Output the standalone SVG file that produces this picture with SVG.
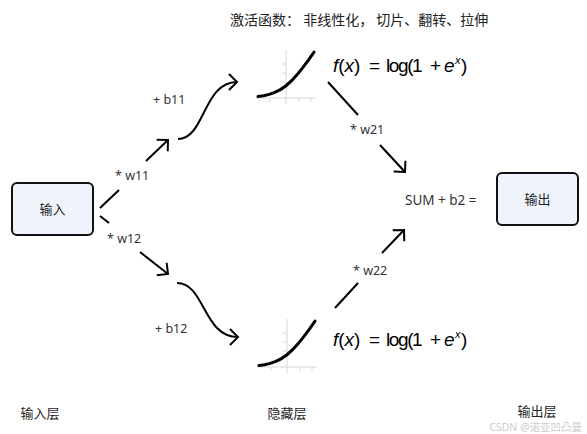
<svg xmlns="http://www.w3.org/2000/svg" width="587" height="434" viewBox="0 0 587 434">
  <style>
    .lbl { font-family: "Noto Sans", "Noto Sans CJK SC", sans-serif; font-size: 12.5px; fill: #333; }
    .cjk { font-family: "Noto Sans CJK SC", "Noto Sans", sans-serif; font-size: 13px; fill: #222; }
    .title { font-size: 14px; }
    .sum { font-size: 13.5px; }
    .box { fill: #eef3fc; stroke: #111; stroke-width: 2; }
    .edge { fill: none; stroke: #000; stroke-width: 2; }
    .axis { stroke: #d8d8d8; stroke-width: 1; fill: none; }
    .curve { fill: none; stroke: #000; stroke-width: 3; stroke-linecap: round; }
    .fx { font-family: "Liberation Sans", Arial, sans-serif; font-size: 19px; fill: #000; }
    .it { font-style: italic; }
    .wm { font-family: "Noto Sans", "Noto Sans CJK SC", sans-serif; font-size: 10.5px; fill: #cccccc; }
  </style>
  <defs>
    <marker id="arrow" markerUnits="userSpaceOnUse" markerWidth="20" markerHeight="20" viewBox="-10 -10 20 20" refX="0" refY="0" orient="auto">
      <path d="M-8,-8 L0,0 L-8,8" fill="none" stroke="#000" stroke-width="2" stroke-linejoin="miter"/>
    </marker>
    <!-- softplus plot: faint axes, ticks and the curve -->
    <g id="softplus">
      <path class="axis" d="M286,50 V104 M256,98 H316"/>
      <path class="axis" d="M282,64 H286 M282,73 H286 M282,82 H286 M270,98 V102 M299,98 V102 M311,98 V102"/>
      <polyline class="curve" points="258,96.6 263.6,95.7 269.2,94.4 274.8,92.4 280.4,89.6 286,85.7 291.6,80.7 297.2,74.6 302.8,67.7 308.4,60.1 314,52.1"/>
    </g>
  </defs>

  <!-- title -->
  <text class="cjk title" x="230" y="25">激活函数： 非线性化， 切片、翻转、拉伸</text>

  <!-- input node -->
  <g id="input">
    <rect class="box" x="12" y="183" width="81" height="52" rx="5"/>
    <text class="cjk" x="52.5" y="214" text-anchor="middle">输入</text>
  </g>

  <!-- hidden unit 1 -->
  <g id="hidden1">
    <use href="#softplus"/>
    <text class="fx" y="72"><tspan x="333" class="it">f</tspan><tspan>(</tspan><tspan class="it">x</tspan><tspan>)</tspan><tspan x="369">=</tspan><tspan x="386" letter-spacing="-1.4">log(1</tspan><tspan x="430">+</tspan><tspan x="444" class="it">e</tspan><tspan x="455" dy="-8" font-size="11" class="it">x</tspan><tspan x="461" dy="8">)</tspan></text>
  </g>

  <!-- hidden unit 2 -->
  <g id="hidden2">
    <use href="#softplus" transform="translate(1,269)"/>
    <text class="fx" y="346"><tspan x="333" class="it">f</tspan><tspan>(</tspan><tspan class="it">x</tspan><tspan>)</tspan><tspan x="369">=</tspan><tspan x="386" letter-spacing="-1.4">log(1</tspan><tspan x="430">+</tspan><tspan x="444" class="it">e</tspan><tspan x="455" dy="-8" font-size="11" class="it">x</tspan><tspan x="461" dy="8">)</tspan></text>
  </g>

  <!-- sum -->
  <g id="sum">
    <text class="lbl sum" x="405" y="205">SUM + b2 =</text>
  </g>

  <!-- output node -->
  <g id="output">
    <rect class="box" x="497" y="173" width="81" height="52" rx="5"/>
    <text class="cjk" x="537.5" y="204" text-anchor="middle">输出</text>
  </g>

  <!-- connectors -->
  <g id="connectors">
    <!-- input to hidden 1 -->
    <path class="edge" d="M100,208 L119,190"/>
    <path class="edge" d="M146,161 L168,140" marker-end="url(#arrow)"/>
    <path class="edge" d="M178,139 C205,139 203,82 237,82" marker-end="url(#arrow)"/>
    <!-- input to hidden 2 -->
    <path class="edge" d="M100,216 L109,223"/>
    <path class="edge" d="M140,252 L168,274" marker-end="url(#arrow)"/>
    <path class="edge" d="M177,283 C205,283 203,337 238,337" marker-end="url(#arrow)"/>
    <!-- hidden 1 to sum -->
    <path class="edge" d="M328,82 L358,115"/>
    <path class="edge" d="M380,145 L405,172" marker-end="url(#arrow)"/>
    <!-- hidden 2 to sum -->
    <path class="edge" d="M335,308 L358,283"/>
    <path class="edge" d="M382,253 L404,230" marker-end="url(#arrow)"/>
  </g>

  <!-- edge labels -->
  <text class="lbl" x="115" y="180">* w11</text>
  <text class="lbl" x="107" y="243">* w12</text>
  <text class="lbl" x="153" y="104">+ b11</text>
  <text class="lbl" x="155" y="333">+ b12</text>
  <text class="lbl" x="350" y="134">* w21</text>
  <text class="lbl" x="353" y="275">* w22</text>

  <!-- layer captions -->
  <text class="cjk" x="40" y="418" text-anchor="middle">输入层</text>
  <text class="cjk" x="287" y="418" text-anchor="middle">隐藏层</text>
  <text class="cjk" x="537" y="416" text-anchor="middle">输出层</text>

  <!-- watermark -->
  <text class="wm" x="582" y="431" text-anchor="end">CSDN @诺亚凹凸曼</text>
</svg>
